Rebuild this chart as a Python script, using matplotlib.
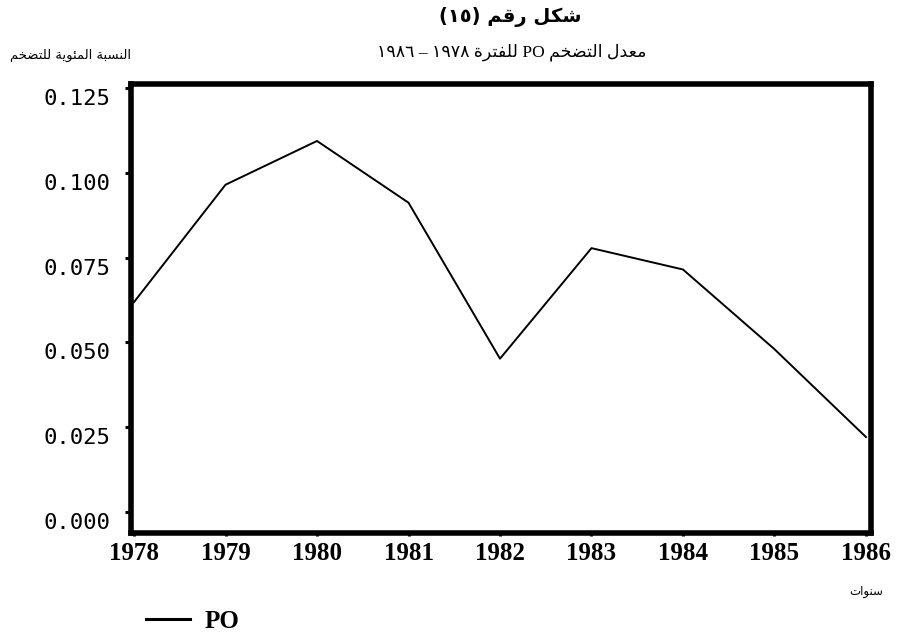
import matplotlib
matplotlib.use("Agg")
import matplotlib.pyplot as plt
from matplotlib.ticker import FixedLocator, FuncFormatter
from matplotlib.transforms import ScaledTranslation

# ---------------- data ----------------
years = [1978, 1979, 1980, 1981, 1982, 1983, 1984, 1985, 1986]
po = [0.0619, 0.0965, 0.1094, 0.0912, 0.0452, 0.0778, 0.0715, 0.0480, 0.0221]
y_ticks = [0.000, 0.025, 0.050, 0.075, 0.100, 0.125]
series_name = "PO"
title_text = "شكل رقم (١٥)"
subtitle_text = "معدل التضخم PO للفترة ١٩٧٨ – ١٩٨٦"
y_title_text = "النسبة المئوية للتضخم"
x_title_text = "سنوات"

# ---------------- minimal Arabic shaping (presentation forms + RTL order) ----------------
_RANGES = [('ء', 0xFE80, 1), ('آ', 0xFE81, 2), ('أ', 0xFE83, 2), ('ؤ', 0xFE85, 2),
           ('إ', 0xFE87, 2), ('ئ', 0xFE89, 4), ('ا', 0xFE8D, 2), ('ب', 0xFE8F, 4),
           ('ة', 0xFE93, 2), ('ت', 0xFE95, 4), ('ث', 0xFE99, 4), ('ج', 0xFE9D, 4),
           ('ح', 0xFEA1, 4), ('خ', 0xFEA5, 4), ('د', 0xFEA9, 2), ('ذ', 0xFEAB, 2),
           ('ر', 0xFEAD, 2), ('ز', 0xFEAF, 2), ('س', 0xFEB1, 4), ('ش', 0xFEB5, 4),
           ('ص', 0xFEB9, 4), ('ض', 0xFEBD, 4), ('ط', 0xFEC1, 4), ('ظ', 0xFEC5, 4),
           ('ع', 0xFEC9, 4), ('غ', 0xFECD, 4), ('ف', 0xFED1, 4), ('ق', 0xFED5, 4),
           ('ك', 0xFED9, 4), ('ل', 0xFEDD, 4), ('م', 0xFEE1, 4), ('ن', 0xFEE5, 4),
           ('ه', 0xFEE9, 4), ('و', 0xFEED, 2), ('ى', 0xFEEF, 2), ('ي', 0xFEF1, 4)]
FORMS = {c: (s, n) for c, s, n in _RANGES}


def shape_word(w):
    out = []
    for i, c in enumerate(w):
        if c not in FORMS:
            out.append(c)
            continue
        s, n = FORMS[c]
        prev = w[i - 1] if i > 0 else None
        nxt = w[i + 1] if i + 1 < len(w) else None
        pc = prev in FORMS and FORMS[prev][1] == 4
        nc = n == 4 and nxt in FORMS
        if n == 1:
            out.append(chr(s))
        elif pc and nc:
            out.append(chr(s + 3))
        elif pc:
            out.append(chr(s + 1))
        elif nc:
            out.append(chr(s + 2))
        else:
            out.append(chr(s))
    return "".join(out)


def visual(text):
    res = []
    for t in text.split(" "):
        if any(ch in FORMS for ch in t):
            res.append(shape_word(t)[::-1])
        else:
            res.append(t)
    return " ".join(res[::-1])


# ---------------- figure ----------------
W, H, DPI = 906, 638, 100
fig = plt.figure(figsize=(W / DPI, H / DPI), dpi=DPI)
fig.patch.set_facecolor("white")

ax = fig.add_axes([131 / W, 1 - 533 / H, 740 / W, 449 / H])
line, = ax.plot(years, po, color="black", lw=1.4, label=series_name)

ax.set_xlim(1977.967, 1986.055)
ax.set_ylim(-0.0062, 0.1262)

for sp in ax.spines.values():
    sp.set_linewidth(4.0)
    sp.set_color("black")

ax.xaxis.set_major_locator(FixedLocator(years))
ax.xaxis.set_major_formatter(FuncFormatter(lambda v, p: f"{int(round(v))}"))
ax.yaxis.set_major_locator(FixedLocator(y_ticks))
ax.yaxis.set_major_formatter(FuncFormatter(lambda v, p: f"{v:.3f}"))

ax.tick_params(axis="x", direction="out", length=2.5, width=2.2, pad=4,
               labelsize=18, colors="black")
ax.tick_params(axis="y", direction="out", length=4.5, width=2.2, pad=10,
               labelsize=16, colors="black")
for lab in ax.get_xticklabels():
    lab.set_fontfamily("Liberation Serif")
    lab.set_fontweight("bold")
offset = ScaledTranslation(0, -9 / DPI, fig.dpi_scale_trans)
for lab in ax.get_yticklabels():
    lab.set_fontfamily("DejaVu Sans Mono")
    lab.set_transform(lab.get_transform() + offset)

# titles
fig.text(510 / W, 1 - 17 / H, visual(title_text), ha="center", va="center",
         fontsize=14, fontweight="bold", family=["DejaVu Sans"])
fig.text(512 / W, 1 - 52 / H, visual(subtitle_text), ha="center", va="center",
         fontsize=12.5, family=["Liberation Serif", "DejaVu Sans"])
fig.text(70 / W, 1 - 55 / H, visual(y_title_text), ha="center", va="center",
         fontsize=9.5, family=["DejaVu Sans"])
fig.text(866 / W, 1 - 591 / H, visual(x_title_text), ha="center", va="center",
         fontsize=8.5, family=["DejaVu Sans"])

# legend
leg = fig.legend(handles=[line], loc="center left", bbox_to_anchor=(146 / W, 1 - 621 / H),
                 frameon=False, borderpad=0, borderaxespad=0, handlelength=1.75,
                 handletextpad=0.6, prop={"family": "Liberation Serif", "weight": "bold", "size": 18})
for l in leg.get_lines():
    l.set_linewidth(2.2)

fig.savefig("out.png", dpi=DPI, facecolor="white")
